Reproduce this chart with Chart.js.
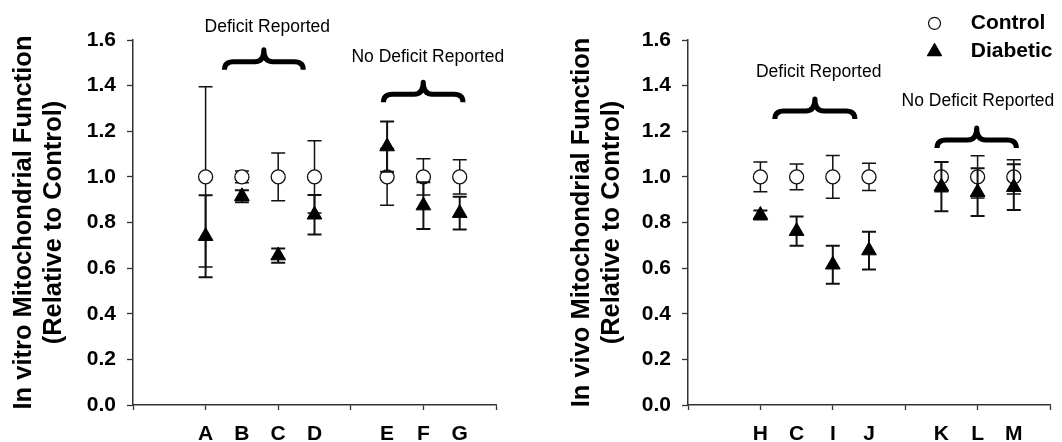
<!DOCTYPE html>
<html><head><meta charset="utf-8">
<script src="https://cdn.jsdelivr.net/npm/chart.js@4.4.1/dist/chart.umd.min.js"></script>
<style>
html,body{margin:0;padding:0;background:#fff;}
#wrap{position:relative;width:1062px;height:442px;overflow:hidden;}
.panel{position:absolute;top:0;width:531px;height:442px;}
</style></head><body>
<div id="wrap">
<div class="panel" style="left:0"><canvas id="c1" width="531" height="442"></canvas></div>
<div class="panel" style="left:531px"><canvas id="c2" width="531" height="442"></canvas></div>
</div>
<script>
// ---- data ----
const vitroCategories = ['A','B','C','D','E','F','G'];
const vitroPositions  = [2,3,4,5,7,8,9];
const vitroControl    = [1.0,1.0,1.0,1.0,1.0,1.0,1.0];
const vitroControlErr = [0.395,0.026,0.105,0.158,0.124,0.079,0.075];
const vitroDiabetic   = [0.74,0.915,0.655,0.834,1.133,0.874,0.841];
const vitroDiabeticErr= [0.18,0.026,0.031,0.087,0.11,0.102,0.072];

const vivoCategories  = ['H','C','I','J','K','L','M'];
const vivoPositions   = [2,3,4,5,7,8,9];
const vivoControl     = [1.0,1.0,1.0,1.0,1.0,1.0,1.0];
const vivoControlErr  = [0.065,0.056,0.094,0.06,0.065,0.093,0.075];
const vivoDiabetic    = [0.833,0.762,0.615,0.677,0.957,0.933,0.955];
const vivoDiabeticErr = [0.02,0.064,0.083,0.083,0.108,0.105,0.1];

const seriesNames = ['Control','Diabetic'];
const groupLabels = ['Deficit Reported','No Deficit Reported'];
const vitroTitle = ['In vitro Mitochondrial Function','(Relative to Control)'];
const vivoTitle  = ['In vivo Mitochondrial Function','(Relative to Control)'];

// annotation placement in data units (text centre, brace span and bar level)
const vitroNotes = [
  {text: groupLabels[0], tx: 3.70, ty: 1.658, x1: 2.52, x2: 4.69, by: 1.505},
  {text: groupLabels[1], tx: 8.12, ty: 1.524, x1: 6.90, x2: 9.09, by: 1.362}
];
const vivoNotes = [
  {text: groupLabels[0], tx: 3.61, ty: 1.457, x1: 2.40, x2: 4.61, by: 1.289},
  {text: groupLabels[1], tx: 8.01, ty: 1.330, x1: 6.88, x2: 9.07, by: 1.162}
];
const vivoLegend = {mx: 6.81, tx: 7.81, y1: 1.673, y2: 1.549};

const INK = '#111';
const AXIS = '#333';
const FONT = '"Liberation Sans", Arial, sans-serif';

const errorBarPlugin = {
  id: 'errorBars',
  beforeDatasetDraw(chart, args) {
    const ds = chart.data.datasets[args.index];
    if (!ds.errorBars) return;
    const {ctx, scales: {x, y}} = chart;
    ctx.save();
    ctx.strokeStyle = INK;
    ctx.lineWidth = ds.errorWidth || 1.3;
    ds.data.forEach((p, i) => {
      const e = ds.errorBars[i];
      const px = x.getPixelForValue(p.x);
      const yt = y.getPixelForValue(p.y + e);
      const yb = y.getPixelForValue(p.y - e);
      const cw = 7;
      ctx.beginPath();
      ctx.moveTo(px, yt); ctx.lineTo(px, yb);
      ctx.moveTo(px - cw, yt); ctx.lineTo(px + cw, yt);
      ctx.moveTo(px - cw, yb); ctx.lineTo(px + cw, yb);
      ctx.stroke();
    });
    ctx.restore();
  }
};

const notesPlugin = {
  id: 'notes',
  afterDraw(chart, args, opts) {
    const {ctx, scales: {x, y}} = chart;
    ctx.save();
    (opts.items || []).forEach(n => {
      ctx.fillStyle = '#000';
      ctx.font = '17.5px ' + FONT;
      ctx.textAlign = 'center';
      ctx.textBaseline = 'middle';
      ctx.fillText(n.text, x.getPixelForValue(n.tx), y.getPixelForValue(n.ty));
      const xl = x.getPixelForValue(n.x1), xr = x.getPixelForValue(n.x2);
      const xc = (xl + xr) / 2, yb = y.getPixelForValue(n.by);
      const yEnd = yb + 8, yTip = yb - 12, r = 9;
      ctx.strokeStyle = '#000';
      ctx.lineWidth = 5;
      ctx.lineCap = 'butt';
      ctx.lineJoin = 'round';
      ctx.beginPath();
      ctx.moveTo(xl, yEnd);
      ctx.quadraticCurveTo(xl, yb, xl + r, yb);
      ctx.lineTo(xc - r, yb);
      ctx.quadraticCurveTo(xc, yb, xc, yTip);
      ctx.quadraticCurveTo(xc, yb, xc + r, yb);
      ctx.lineTo(xr - r, yb);
      ctx.quadraticCurveTo(xr, yb, xr, yEnd);
      ctx.stroke();
    });
    const lg = opts.legend;
    if (lg) {
      const mx = x.getPixelForValue(lg.mx), tx = x.getPixelForValue(lg.tx);
      const y1 = y.getPixelForValue(lg.y1), y2 = y.getPixelForValue(lg.y2);
      ctx.lineWidth = 1.2;
      ctx.strokeStyle = INK; ctx.fillStyle = '#fff';
      Chart.helpers.drawPoint(ctx, {pointStyle: 'circle', radius: 6, rotation: 0, borderWidth: 1.2}, mx, y1);
      ctx.strokeStyle = '#000'; ctx.fillStyle = '#000';
      Chart.helpers.drawPoint(ctx, {pointStyle: 'triangle', radius: 8, rotation: 0, borderWidth: 1}, mx, y2);
      ctx.fillStyle = '#000';
      ctx.font = 'bold 21px ' + FONT;
      ctx.textAlign = 'left';
      ctx.textBaseline = 'middle';
      ctx.fillText(lg.names[0], tx, y1);
      ctx.fillText(lg.names[1], tx, y2);
    }
    ctx.restore();
  }
};

function makeChart(id, cats, pos, ctrl, ctrlErr, diab, diabErr, title, notes, legend, padLeft, yWidth, padRight) {
  return new Chart(document.getElementById(id), {
    type: 'scatter',
    data: {
      datasets: [
        {
          label: seriesNames[0],
          data: pos.map((v, i) => ({x: v, y: ctrl[i]})),
          errorBars: ctrlErr, errorWidth: 1.5,
          pointStyle: 'circle', pointRadius: 7,
          pointBackgroundColor: '#fff', pointBorderColor: INK, pointBorderWidth: 1.3,
          order: 2
        },
        {
          label: seriesNames[1],
          data: pos.map((v, i) => ({x: v, y: diab[i]})),
          errorBars: diabErr, errorWidth: 2,
          pointStyle: 'triangle', pointRadius: 8.5,
          pointBackgroundColor: '#000', pointBorderColor: '#000', pointBorderWidth: 1,
          order: 1
        }
      ]
    },
    options: {
      responsive: false,
      animation: false,
      events: [],
      layout: {padding: {left: padLeft, right: padRight, top: 40, bottom: 0}},
      plugins: {
        legend: {display: false},
        tooltip: {enabled: false},
        notes: {items: notes, legend: legend}
      },
      scales: {
        x: {
          type: 'linear', min: 0, max: 10,
          ticks: {
            stepSize: 1, autoSkip: false, maxRotation: 0, padding: 12, color: '#000',
            font: {family: FONT, weight: 'bold', size: 21},
            callback: v => { const i = pos.indexOf(v); return i >= 0 ? cats[i] : ''; }
          },
          grid: {
            drawOnChartArea: false, drawTicks: true, tickLength: 5, tickWidth: 1.3,
            tickColor: c => (c.tick && c.tick.value % 2 === 0) ? AXIS : 'rgba(0,0,0,0)'
          },
          border: {display: true, color: AXIS, width: 1.5},
          afterFit: s => { s.height = 37; }
        },
        y: {
          min: 0, max: 1.6,
          ticks: {
            stepSize: 0.2, padding: 11, color: '#000',
            font: {family: FONT, weight: 'bold', size: 21},
            callback: v => Number(v).toFixed(1)
          },
          grid: {drawOnChartArea: false, tickLength: 6, tickWidth: 1.3, tickColor: AXIS},
          border: {display: true, color: AXIS, width: 1.5},
          title: {
            display: true, text: title, color: '#000',
            font: {family: FONT, weight: 'bold', size: 25.5, lineHeight: 1.18},
            padding: {top: 9, bottom: 0}
          },
          afterFit: s => { s.width = yWidth; }
        }
      }
    },
    plugins: [errorBarPlugin, notesPlugin]
  });
}

makeChart('c1', vitroCategories, vitroPositions, vitroControl, vitroControlErr, vitroDiabetic, vitroDiabeticErr,
  vitroTitle, vitroNotes, null, 0, 133, 35);
makeChart('c2', vivoCategories, vivoPositions, vivoControl, vivoControlErr, vivoDiabetic, vivoDiabeticErr,
  vivoTitle, vivoNotes, Object.assign({names: seriesNames}, vivoLegend), 27, 130, 9);
</script>
</body></html>
